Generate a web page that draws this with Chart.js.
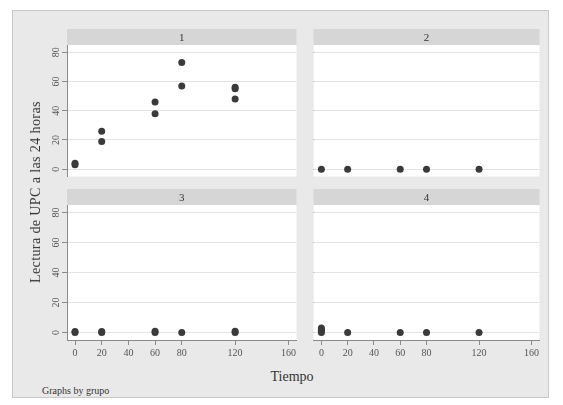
<!DOCTYPE html>
<html>
<head>
<meta charset="utf-8">
<script src="https://cdn.jsdelivr.net/npm/chart.js@4.4.1/dist/chart.umd.min.js"></script>
<style>
  body { margin: 0; background: #fff; width: 563px; height: 405px; position: relative; overflow: hidden; }
  #frame { position: absolute; left: 12px; top: 10px; width: 535px; height: 386px; background: #e9e9e9; border: 1px solid #c9c9c9; }
  canvas { position: absolute; }
  .lbl { position: absolute; font-family: "Liberation Serif", "DejaVu Serif", serif; color: #333; white-space: nowrap; }
</style>
</head>
<body>
<div id="frame"></div>
<canvas id="p1" width="260" height="151" style="left:40px;top:29px"></canvas>
<canvas id="p2" width="233" height="151" style="left:310px;top:29px"></canvas>
<canvas id="p3" width="260" height="176" style="left:40px;top:189px"></canvas>
<canvas id="p4" width="233" height="176" style="left:310px;top:189px"></canvas>
<div class="lbl" style="left:36px;top:192px;font-size:14px;transform:translate(-50%,-50%) rotate(-90deg);letter-spacing:0.4px">Lectura de UPC a las 24 horas</div>
<div class="lbl" style="left:292px;top:377px;font-size:14px;transform:translate(-50%,-50%)">Tiempo</div>
<div class="lbl" style="left:42px;top:385px;font-size:10px">Graphs by grupo</div>
<script>
// data: tiempo (x) vs lectura (y), one pair of arrays per grupo
const grupos = ['1', '2', '3', '4'];
const tiempo1 = [0, 0, 20, 20, 60, 60, 80, 80, 120, 120, 120];
const lectura1 = [3, 4, 26, 19, 46, 38, 73, 57, 55, 56, 48];
const tiempo2 = [0, 20, 60, 80, 120];
const lectura2 = [0, 0, 0, 0, 0];
const tiempo3 = [0, 0, 20, 20, 60, 60, 80, 120, 120];
const lectura3 = [0, 0.6, 0, 0.6, 0, 0.8, 0, 0, 0.8];
const tiempo4 = [0, 0, 0, 0, 20, 60, 80, 120];
const lectura4 = [0, 1, 2, 3, 0, 0, 0, 0];
const xTicks = [0, 20, 40, 60, 80, 120, 160];
const yTicks = [0, 20, 40, 60, 80];

const dotColor = '#3a3a3a';
const serif = '"Liberation Serif", "DejaVu Serif", serif';

// grey strip with the grupo number on top, white plot region
const strip = {
    id: 'strip',
    beforeDraw(chart, args, opts) {
        const ctx = chart.ctx;
        const a = chart.chartArea;
        ctx.save();
        ctx.fillStyle = '#d6d6d6';
        ctx.fillRect(a.left, 0, a.right - a.left, a.top);
        ctx.fillStyle = '#ffffff';
        ctx.fillRect(a.left, a.top, a.right - a.left, a.bottom - a.top);
        ctx.fillStyle = '#333';
        ctx.font = '11px ' + serif;
        ctx.textAlign = 'center';
        ctx.textBaseline = 'middle';
        ctx.fillText(opts.text, (a.left + a.right) / 2, a.top / 2 + 1);
        ctx.restore();
    }
};

function points(xs, ys) {
    return xs.map((x, i) => ({ x: x, y: ys[i] }));
}

function makePanel(id, title, xs, ys, showY, showX) {
    new Chart(document.getElementById(id), {
        type: 'scatter',
        data: {
            datasets: [{
                data: points(xs, ys),
                backgroundColor: dotColor,
                borderColor: dotColor,
                borderWidth: 0,
                pointRadius: 3.5,
                pointHoverRadius: 3.5,
            }],
        },
        options: {
            responsive: false,
            animation: false,
            events: [],
            layout: { padding: { top: 16, left: 0, right: 0, bottom: 0 } },
            plugins: {
                legend: { display: false },
                tooltip: { enabled: false },
                strip: { text: title },
            },
            scales: {
                x: {
                    type: 'linear',
                    min: -6,
                    max: 166,
                    display: showX,
                    afterBuildTicks: s => { s.ticks = xTicks.map(v => ({ value: v })); },
                    afterFit: s => { s.height = showX ? 25 : 0; s.paddingLeft = 0; s.paddingRight = 0; },
                    border: { display: true, color: '#8a8a8a', width: 1 },
                    grid: { drawOnChartArea: false, tickLength: 5, tickColor: '#8a8a8a' },
                    ticks: { color: '#555', font: { family: serif, size: 10 }, padding: 2, maxRotation: 0 },
                },
                y: {
                    min: -5,
                    max: 85,
                    afterBuildTicks: s => { s.ticks = yTicks.map(v => ({ value: v })); },
                    afterFit: s => { s.width = showY ? 27 : 0; s.paddingTop = 0; s.paddingBottom = 0; },
                    border: { display: showY, color: '#8a8a8a', width: 1 },
                    grid: { color: '#e4e4e4', lineWidth: 1, tickLength: showY ? 5 : 0, tickColor: '#8a8a8a' },
                    ticks: {
                        display: showY,
                        color: '#555',
                        font: { family: serif, size: 10 },
                        padding: 1,
                        minRotation: 90,
                        maxRotation: 90,
                        crossAlign: 'center',
                    },
                },
            },
        },
        plugins: [strip],
    });
}

makePanel('p1', grupos[0], tiempo1, lectura1, true, false);
makePanel('p2', grupos[1], tiempo2, lectura2, false, false);
makePanel('p3', grupos[2], tiempo3, lectura3, true, true);
makePanel('p4', grupos[3], tiempo4, lectura4, false, true);
</script>
</body>
</html>
